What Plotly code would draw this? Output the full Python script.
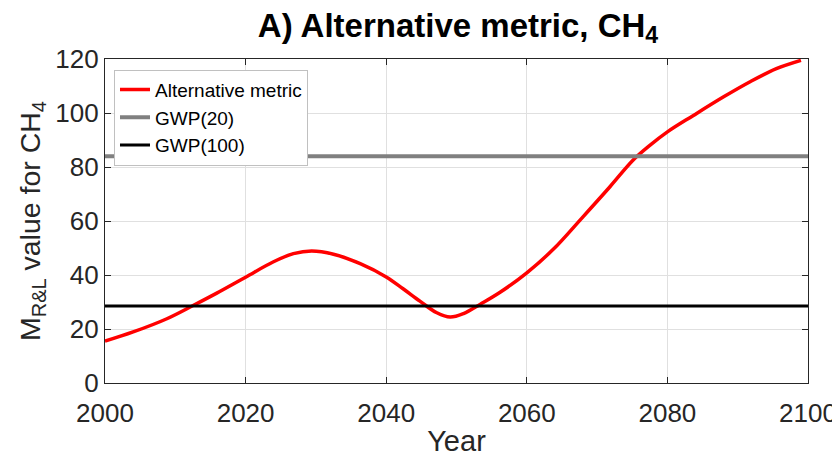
import plotly.graph_objects as go

years = [2000, 2004.0, 2008.8, 2012.6, 2015.9, 2020, 2023.9, 2026.8, 2029.4, 2032.5,
         2036.3, 2040, 2042.4, 2044.8, 2047.2, 2049.1, 2051.0, 2053.4, 2056.2, 2060,
         2063.8, 2067.8, 2071.8, 2075.1, 2077.5, 2080, 2083.7, 2088, 2091.7, 2095.5, 2099]
alt_metric = [15.5, 18.9, 23.8, 28.8, 33.3, 39.2, 44.8, 47.9, 48.9, 47.7,
              44.2, 39.3, 34.9, 30.3, 26.0, 24.4, 25.7, 29.2, 33.6, 40.8,
              49.6, 61.0, 72.6, 82.5, 88.0, 93.0, 99.1, 106.0, 111.5, 116.4, 119.5]
gwp20 = 84
gwp100 = 28.5
x_range = [2000, 2100]
y_range = [0, 120]
x_ticks = [2000, 2020, 2040, 2060, 2080, 2100]
y_ticks = [0, 20, 40, 60, 80, 100, 120]

font_family = "Liberation Sans, Arial, sans-serif"
txt = "#262626"

# page body has an 8px margin, so the figure is sized to fill the 840x457 window
W, H = 832, 449

fig = go.Figure()
fig.add_trace(go.Scatter(x=years, y=alt_metric, mode="lines", name="Alternative metric",
                         line=dict(color="#ff0000", width=3.5, shape="spline", smoothing=1.0)))
fig.add_trace(go.Scatter(x=x_range, y=[gwp20, gwp20], mode="lines", name="GWP(20)",
                         line=dict(color="#808080", width=4)))
fig.add_trace(go.Scatter(x=x_range, y=[gwp100, gwp100], mode="lines", name="GWP(100)",
                         line=dict(color="#000000", width=3)))

fig.update_layout(
    width=W, height=H,
    margin=dict(l=97, r=32, t=51, b=74, autoexpand=False),
    paper_bgcolor="white", plot_bgcolor="white",
    font=dict(family=font_family, color=txt, size=26),
    title=dict(text="<b>A) Alternative metric, CH<sub>4</sub></b>", x=450 / W,
               xanchor="center", xref="container", yref="container",
               y=1 - 17 / H, yanchor="middle",
               font=dict(size=33, color="#000000", family=font_family)),
    showlegend=True,
    legend=dict(x=0.0128, y=0.967, xanchor="left", yanchor="top",
                bgcolor="white", bordercolor="#c0c0c0", borderwidth=1,
                font=dict(size=19, color="#000000", family=font_family),
                tracegroupgap=0, itemwidth=30),
)
fig.update_xaxes(range=x_range, tickvals=x_ticks, ticks="inside", ticklen=6, tickcolor=txt,
                 showline=True, linecolor=txt, linewidth=1.2, mirror="ticks",
                 showgrid=True, gridcolor="#e0e0e0", gridwidth=1, zeroline=False,
                 automargin=False, ticklabelstandoff=7,
                 title=dict(text="Year", font=dict(size=29, color=txt), standoff=9),
                 tickfont=dict(size=26, color=txt))
fig.update_yaxes(range=y_range, tickvals=y_ticks, ticks="inside", ticklen=6, tickcolor=txt,
                 showline=True, linecolor=txt, linewidth=1.2, mirror="ticks",
                 showgrid=True, gridcolor="#e0e0e0", gridwidth=1, zeroline=False,
                 automargin=False,
                 title=dict(text="M<sub>R&L</sub> value for CH<sub>4</sub>", font=dict(size=28.5, color=txt), standoff=6),
                 tickfont=dict(size=26, color=txt))

fig.write_html("out.html")
